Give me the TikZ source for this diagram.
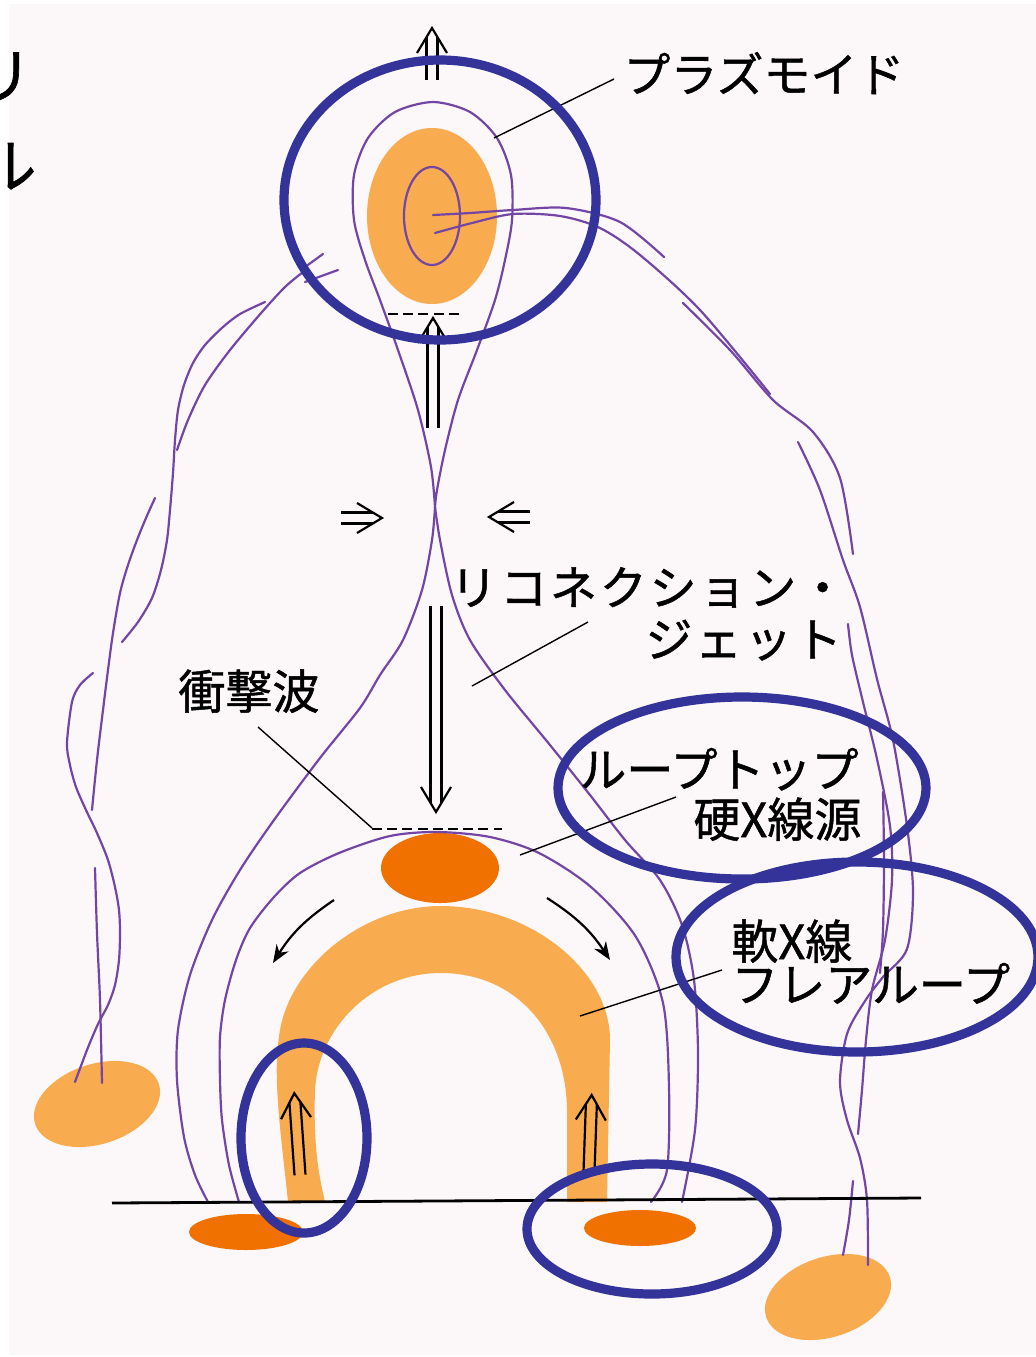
\documentclass[tikz,border=0pt]{standalone}
\usepackage{fontspec}
\newfontfamily\jp[FakeBold=1]{Noto Sans CJK JP}
\newfontfamily\jpwide[LetterSpace=6,FakeBold=1]{Noto Sans CJK JP}
\usetikzlibrary{arrows.meta}

\definecolor{bgpale}{RGB}{252,248,249}
\definecolor{flarelight}{RGB}{249,171,80}
\definecolor{flaredark}{RGB}{240,112,0}
\definecolor{fieldline}{RGB}{115,70,165}
\definecolor{ringblue}{RGB}{51,51,153}

\tikzset{
  field/.style={draw=fieldline,line width=1.1pt,line cap=round},
  ring/.style={draw=ringblue,line width=4.6pt},
  leader/.style={draw=black,line width=0.7pt},
  arw/.style={draw=black,line width=1.1pt},
  shockdash/.style={draw=black,line width=0.9pt,dash pattern=on 5pt off 2.6pt},
  lbl/.style={font=\jp\fontsize{23.5pt}{28pt}\selectfont,inner sep=0pt,anchor=base west},
  lblwide/.style={font=\jpwide\fontsize{23.5pt}{28pt}\selectfont,inner sep=0pt,anchor=base west},
  cutlbl/.style={font=\jp\fontsize{30pt}{34pt}\selectfont,inner sep=0pt,anchor=base west},
  % double-shafted open arrow, tail at the origin, tip at (#1,0)
  pics/dbl/.style={code={
      \draw[arw] (0,-5.5) -- (#1-9,-5.5) (0,5.5) -- (#1-9,5.5);
      \draw[arw] (#1-25,-15) -- (#1,0) -- (#1-25,15);
  }}
}

\begin{document}
\begin{tikzpicture}[x=0.5pt,y=-0.5pt]
\useasboundingbox (0,0) rectangle (1036,1357);
\clip (0,0) rectangle (1036,1357);
\fill[white] (0,0) rectangle (1036,1357);
\fill[bgpale] (9,4) rectangle (1036,1355);

% ---- emission regions ----
\fill[flarelight] (432,216) ellipse [x radius=65, y radius=88];
\fill[flarelight, rotate around={18:(97,1104)}] (97,1104) ellipse [x radius=65, y radius=40];
\fill[flarelight, rotate around={18:(828,1297)}] (828,1297) ellipse [x radius=65, y radius=40];
% soft X-ray flare loop
\fill[flarelight] (288,1202) .. controls (283,1150) and (272,1080) .. (279,1037)
  .. controls (286,970) and (360,906) .. (441,906)
  .. controls (530,906) and (610,970) .. (610,1040) -- (607,1202) -- (567,1202)
  -- (567,1110) .. controls (566,1030) and (515,973) .. (441,973)
  .. controls (370,973) and (318,1030) .. (315,1090)
  .. controls (313,1150) and (320,1180) .. (325,1202) -- cycle;
\fill[flaredark] (440,868) ellipse [x radius=59, y radius=35];
\fill[flaredark] (246,1232) ellipse [x radius=57, y radius=18];
\fill[flaredark] (640,1228) ellipse [x radius=56, y radius=18];

% ---- field lines ----
\draw[field] (432,216) ellipse [x radius=28, y radius=49];
% plasmoid loop closing at the X-point
\draw[field] plot[smooth] coordinates {(435,507) (431,467) (418,410) (398,350) (380,300)
  (365,260) (354,220) (354,175) (368,138) (395,112) (433,102) (470,112) (497,138)
  (511,175) (512,220) (505,260) (495,300) (477,350) (458,400) (445,450) (437,490) (435,507)};
% legs below the X-point
\draw[field] plot[smooth] coordinates {(435,507) (432,540) (422,590) (403,640) (380,675)
  (360,708) (320,758) (274,820) (240,870) (212,920) (190,975) (178,1030) (177,1080)
  (184,1137) (195,1175) (208,1202)};
\draw[field] plot[smooth] coordinates {(435,507) (440,540) (452,595) (470,640) (505,690)
  (550,745) (590,795) (625,840) (660,880) (682,925) (694,980) (698,1053) (695,1130) (682,1202)};
% post-flare arc over the loop top
\draw[field] plot[smooth] coordinates {(239,1202) (229,1165) (222,1120) (220,1080) (220,1037)
  (225,1000) (236,960) (250,928) (274,897) (300,873) (339,853) (390,836) (437,832)
  (490,837) (539,853) (591,887) (636,937) (663,1003) (669,1087) (667,1170) (651,1202)};
% lines leaving the plasmoid to the right
\draw[field] plot[smooth] coordinates {(433,215) (470,213) (513,210) (566,208) (620,222) (664,257)};
\draw[field] plot[smooth] coordinates {(435,233) (472,223) (513,214) (560,216) (600,228)
  (640,255) (700,310) (770,394)};
\draw[field] plot[smooth] coordinates {(683,303) (730,350) (773,400) (813,432) (840,478) (853,554)};
\draw[field] plot[smooth] coordinates {(798,442) (820,490) (843,560) (860,607) (877,679)
  (893,740) (907,826) (913,892) (907,949) (883,977) (865,1001) (847,1034) (840,1082)
  (847,1120) (860,1158) (867,1200) (868,1265)};
\draw[field] plot[smooth] coordinates {(848,624) (852,655) (863,702) (877,759) (890,826)
  (892,880) (885,940) (872,990) (866,1040) (862,1090) (858,1134)};
\draw[field] plot[smooth] coordinates {(883,792) (884,860) (883,930) (880,973)};
\draw[field] plot[smooth] coordinates {(853,1181) (849,1220) (843,1255)};
% lines leaving the plasmoid to the left
\draw[field] (323,254) -- (305,267);
\draw[field] (338,270) -- (305,282);
\draw[field] plot[smooth] coordinates {(303,272) (285,287) (262,312) (230,350) (205,385)
  (188,420) (177,450)};
\draw[field] plot[smooth] coordinates {(265,302) (240,314) (223,327) (205,345) (193,363)
  (184,385) (178,410) (175,440) (173,473) (170,510) (167,540) (161,570) (152,598)
  (138,622) (122,642)};
\draw[field] plot[smooth] coordinates {(155,498) (146,518) (137,540) (128,565) (120,593)
  (113,633) (108,670) (103,710) (97,760) (92,810)};
\draw[field] plot[smooth] coordinates {(93,673) (80,685) (72,702) (67,743) (70,765) (76,787)
  (86,810) (97,833) (108,860) (115,887) (119,910) (120,933) (119,960) (115,985)
  (108,1005) (98,1024) (87,1050) (75,1082)};
\draw[field] plot[smooth] coordinates {(95,868) (97,933) (100,1000) (102,1083)};

% ---- surface ----
\draw[black,line width=1.4pt] (112,1203) -- (921,1198);

% ---- current sheet markers and flows ----
\draw[shockdash] (388,314) -- (462,314);
\draw[shockdash] (372,829) -- (502,829);
\pic[rotate=90] at (432,80) {dbl=52};
\pic[rotate=90] at (433,428) {dbl=110};
\pic at (341,518) {dbl=41};
\pic[rotate=180] at (530,517) {dbl=41};
\pic[rotate=-90] at (436,606) {dbl=206};
\pic[rotate=94] at (300,1175) {dbl=82};
\pic[rotate=88] at (589,1172) {dbl=77};
\draw[arw,-{Stealth[length=9pt,width=7pt]}] (334,900) to[bend right=12] (273,963);
\draw[arw,-{Stealth[length=9pt,width=7pt]}] (547,898) to[bend left=12] (610,960);

% ---- labels ----
\node[cutlbl] (cutA) at (-28,98) {リ};
\node[cutlbl] (cutB) at (-24,188) {ル};
\node[lbl] (plasmoid) at (623,92) {プラズモイド};
\node[lblwide] (jet1) at (450,605) {リコネクション・};
\node[lblwide] (jet2) at (645,657) {ジェット};
\node[lbl] (shock) at (178,709) {衝撃波};
\node[lbl] (hxr1) at (579,787) {ループトップ};
\node[lbl] (hxr2) at (693,837) {硬X線源};
\node[lbl] (sxr1) at (731,959) {軟X線};
\node[lbl] (sxr2) at (731,1002) {フレアループ};

% leader lines
\coordinate (pA) at (614,79);  \coordinate (pB) at (494,138);
\coordinate (jA) at (588,622); \coordinate (jB) at (472,686);
\coordinate (sA) at (258,727); \coordinate (sB) at (372,828);
\coordinate (hA) at (676,797); \coordinate (hB) at (520,855);
\coordinate (fA) at (722,970); \coordinate (fB) at (580,1016);
\draw[leader] (pA) -- (pB);
\draw[leader] (jA) -- (jB);
\draw[leader] (sA) -- (sB);
\draw[leader] (hA) -- (hB);
\draw[leader] (fA) -- (fB);

% ---- highlight rings ----
\draw[ring] (440,200) ellipse [x radius=156, y radius=140];
\draw[ring] (742,788) ellipse [x radius=184, y radius=91];
\draw[ring] (857,957) ellipse [x radius=181, y radius=95];
\draw[ring] (304,1138) ellipse [x radius=63, y radius=95];
\draw[ring] (652,1229) ellipse [x radius=125, y radius=65];
\end{tikzpicture}
\end{document}
